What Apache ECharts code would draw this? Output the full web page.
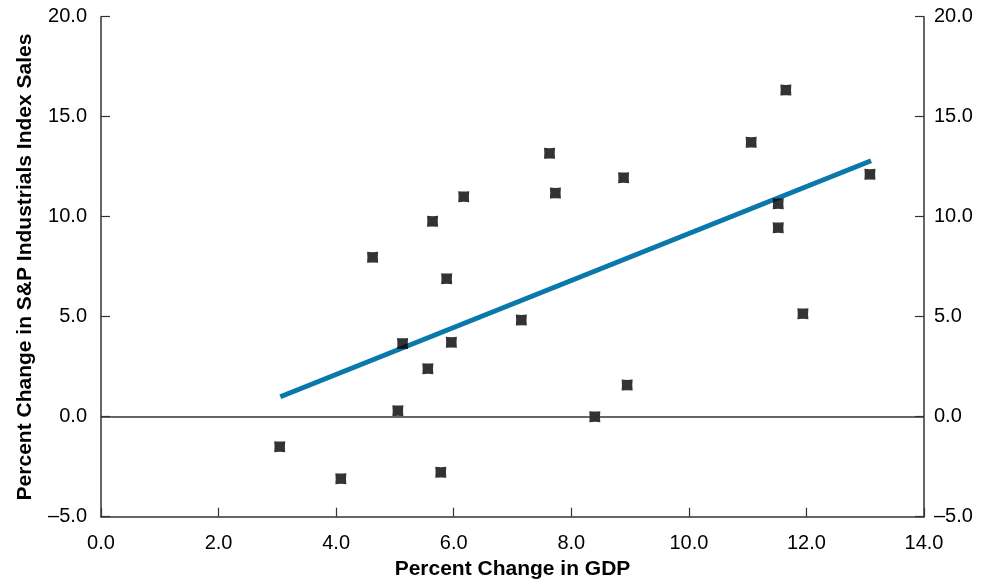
<!DOCTYPE html>
<html>
<head>
<meta charset="utf-8">
<script src="https://cdn.jsdelivr.net/npm/echarts@6/dist/echarts.min.js"></script>
<style>
html,body{margin:0;padding:0;background:#fff;}
#chart{width:985px;height:588px;}
</style>
</head>
<body>
<div id="chart"></div>
<script>
// Data
const gdpChange = [3.04, 4.08, 4.62, 5.05, 5.13, 5.56, 5.64, 5.78, 5.88, 5.96, 6.17, 7.15, 7.63, 7.73, 8.40, 8.89, 8.95, 11.06, 11.52, 11.52, 11.65, 11.94, 13.08];
const salesChange = [-1.50, -3.10, 7.97, 0.30, 3.66, 2.40, 9.77, -2.78, 6.90, 3.72, 11.00, 4.83, 13.17, 11.18, 0.0, 11.95, 1.58, 13.72, 10.65, 9.45, 16.33, 5.15, 12.12];
const trendX = [3.05, 13.1];
const trendY = [1.0, 12.8];
const xTicks = [0, 2, 4, 6, 8, 10, 12, 14];
const yTicks = [-5, 0, 5, 10, 15, 20];
const xTitle = 'Percent Change in GDP';
const yTitle = 'Percent Change in S&P Industrials Index Sales';

const points = gdpChange.map((x, i) => [x, salesChange[i]]);
const trend = trendX.map((x, i) => [x, trendY[i]]);

const FONT = '"Liberation Sans", Arial, Helvetica, sans-serif';
const fmt = v => (v < 0 ? '\u2013' + Math.abs(v).toFixed(1) : v.toFixed(1));
const axisColor = '#333';

const chart = echarts.init(document.getElementById('chart'));
chart.setOption({
  animation: false,
  backgroundColor: '#fff',
  grid: { left: 101, right: 61, top: 16.7, bottom: 71.3, containLabel: false },
  xAxis: {
    type: 'value', min: xTicks[0], max: xTicks[xTicks.length - 1], interval: 2,
    name: xTitle, nameLocation: 'middle', nameGap: 39,
    nameTextStyle: { fontFamily: FONT, fontWeight: 'bold', fontSize: 21, color: '#000' },
    axisLine: { show: true, onZero: false, lineStyle: { color: axisColor, width: 1.5 } },
    axisTick: { show: true, inside: true, length: 9, lineStyle: { color: axisColor, width: 1.2 } },
    axisLabel: { formatter: fmt, margin: 17, fontFamily: FONT, fontSize: 20, color: '#000' },
    splitLine: { show: false }
  },
  yAxis: [{
    type: 'value', min: yTicks[0], max: yTicks[yTicks.length - 1], interval: 5, position: 'left',
    axisLine: { show: true, onZero: false, lineStyle: { color: axisColor, width: 1.5 } },
    axisTick: { show: true, inside: true, length: 9, lineStyle: { color: axisColor, width: 1.2 } },
    axisLabel: { formatter: fmt, margin: 14, fontFamily: FONT, fontSize: 20, color: '#000' },
    splitLine: { show: false }
  }, {
    type: 'value', min: yTicks[0], max: yTicks[yTicks.length - 1], interval: 5, position: 'right',
    axisLine: { show: true, onZero: false, lineStyle: { color: axisColor, width: 1.5 } },
    axisTick: { show: true, inside: true, length: 9, lineStyle: { color: axisColor, width: 1.2 } },
    axisLabel: { formatter: fmt, margin: 10, fontFamily: FONT, fontSize: 20, color: '#000' },
    splitLine: { show: false }
  }],
  graphic: [{
    type: 'text', x: 25, y: 267, rotation: Math.PI / 2,
    style: { text: yTitle, textAlign: 'center', textVerticalAlign: 'middle',
      fontFamily: FONT, fontWeight: 'bold', fontSize: 21, fill: '#000' }
  }],
  series: [{
    type: 'line', data: trend, symbol: 'none', silent: true, z: 2,
    lineStyle: { color: '#0a78a8', width: 5 },
    markLine: {
      silent: true, symbol: 'none', label: { show: false },
      lineStyle: { color: axisColor, width: 1.5, type: 'solid' },
      data: [{ yAxis: 0 }]
    }
  }, {
    type: 'scatter', data: points, z: 3,
    symbol: 'path://M0,0 Q5,0.6 10,0 Q9.4,5 10,10 Q5,9.4 0,10 Q0.6,5 0,0 Z',
    symbolSize: 11,
    itemStyle: { color: '#000' }
  }]
});
</script>
</body>
</html>
